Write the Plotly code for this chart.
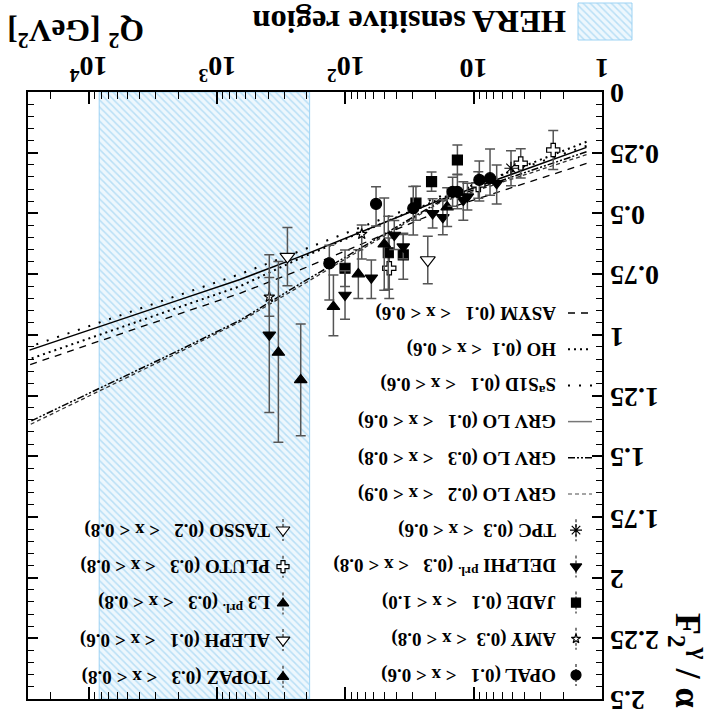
import math
import plotly.graph_objects as go

# ---------------- measured photon structure function F2^gamma / alpha ----------------
OPAL_Q2 = [7.46, 9.04, 13.4, 14.6, 29.6, 57.7, 133.5]
OPAL_F2 = [0.355, 0.362, 0.411, 0.411, 0.479, 0.461, 0.706]
OPAL_LO = [0.12, 0.078, 0.07, 0.06, 0.09, 0.071, 0.075]
OPAL_HI = [0.07, 0.087, 0.07, 0.06, 0.11, 0.091, 0.151]

AMY_Q2 = [74.6, 392]
AMY_F2 = [0.585, 0.844]
AMY_LO = [0.037, 0.08]
AMY_HI = [0.103, 0.08]

JADE_Q2 = [13.4, 21.3, 28.2, 35.4, 46.3, 100.7]
JADE_F2 = [0.280, 0.369, 0.458, 0.671, 0.662, 0.726]
JADE_LO = [0.062, 0.04, 0.07, 0.089, 0.15, 0.075]
JADE_HI = [0.059, 0.04, 0.07, 0.10, 0.15, 0.075]

DELPHI_Q2 = [6.62, 11.2, 12.05, 17.4, 20.9, 41.6, 35.4, 62.8, 100.7, 392]
DELPHI_F2 = [0.376, 0.431, 0.445, 0.516, 0.500, 0.589, 0.637, 0.765, 0.836, 1.0]
DELPHI_LO = [0.075, 0.055, 0.075, 0.072, 0.06, 0.06, 0.05, 0.073, 0.10, 0.33]
DELPHI_HI = [0.085, 0.055, 0.083, 0.072, 0.06, 0.06, 0.05, 0.085, 0.10, 0.32]

TPC_Q2 = [5.12]
TPC_F2 = [0.314]
TPC_LO = [0.072]
TPC_HI = [0.072]

TASSO_Q2 = [22.8]
TASSO_F2 = [0.692]
TASSO_LO = [0.098]
TASSO_HI = [0.098]

PLUTO_Q2 = [2.40, 4.30, 9.21, 45.5]
PLUTO_F2 = [0.239, 0.294, 0.383, 0.726]
PLUTO_LO = [0.08, 0.06, 0.055, 0.125]
PLUTO_HI = [0.08, 0.06, 0.055, 0.125]

L3_Q2 = [124, 333, 223]
L3_F2 = [0.884, 1.073, 1.186]
L3_LO = [0.13, 0.375, 0.23]
L3_HI = [0.12, 0.37, 0.23]

ALEPH_Q2 = [283]
ALEPH_F2 = [0.678]
ALEPH_LO = [0.12]
ALEPH_HI = [0.12]

TOPAZ_Q2 = [16.1, 49.8, 79.3]
TOPAZ_F2 = [0.474, 0.627, 0.750]
TOPAZ_LO = [0.08, 0.19, 0.10]
TOPAZ_HI = [0.08, 0.19, 0.10]

# ---------------- theoretical predictions ----------------
MODEL_Q2 = [1.32, 18.3, 226, 663, 1946, 29000]
GRV_01_06 = [0.228, 0.445, 0.678, 0.772, 0.855, 1.063]
GRV_03_08 = [0.246, 0.450, 0.790, 0.940, 1.062, 1.358]
GRV_02_09 = [0.258, 0.455, 0.800, 0.946, 1.070, 1.371]
SAS1D = [0.222, 0.430, 0.655, 0.750, 0.835, 1.049]
HO = [0.205, 0.440, 0.685, 0.800, 0.885, 1.100]
ASYM = [0.294, 0.490, 0.733, 0.829, 0.913, 1.124]

HERA_Q2 = [190, 8300]

# ---------------- axis tick labels ----------------
X_TICKS = [1, 10, 100, 1000, 10000]
X_TICK_TEXT = ["1", "10", "10<sup>2</sup>", "10<sup>3</sup>", "10<sup>4</sup>"]
Y_TICKS = [0, 0.25, 0.5, 0.75, 1, 1.25, 1.5, 1.75, 2, 2.25, 2.5]
Y_TICK_TEXT = ["0", "0.25", "0.5", "0.75", "1", "1.25", "1.5", "1.75", "2", "2.25", "2.5"]

# ---------------- styling ----------------
W, H = 723, 725
FRAME_L, FRAME_R, FRAME_T, FRAME_B = 28, 602, 92, 699
SERIF = "Liberation Serif"
ERR_COLOR = "#555555"
HATCH = dict(shape="\\", fgcolor="#86c8ee", bgcolor="rgba(225,241,252,0.6)",
             size=5, solidity=0.3)

fig = go.Figure()

# HERA sensitive band
fig.add_trace(go.Scatter(
    x=[HERA_Q2[0], HERA_Q2[1], HERA_Q2[1], HERA_Q2[0], HERA_Q2[0]],
    y=[0, 0, 2.5, 2.5, 0], mode="lines", fill="toself",
    fillpattern=HATCH, fillcolor="rgba(225,241,252,0.6)",
    line=dict(color="#9dd3f4", width=1), hoverinfo="skip",
    xaxis="x", yaxis="y", showlegend=False))

curves = [
    ("GRV LO (0.2 < x < 0.9)", GRV_02_09, dict(color="#333333", width=1.3, dash="4px,3px")),
    ("GRV LO (0.3 < x < 0.8)", GRV_03_08, dict(color="black", width=1.5, dash="7px,2px,2px,2px,2px,2px")),
    ("ASYM", ASYM, dict(color="black", width=1.3, dash="7px,6px")),
    ("HO", HO, dict(color="black", width=2, dash="2px,4px")),
    ("SaS1D", SAS1D, dict(color="black", width=2, dash="2px,9px")),
    ("GRV LO (0.1 < x < 0.6)", GRV_01_06, dict(color="black", width=1.5, dash="solid")),
]
for name, vals, style in curves:
    fig.add_trace(go.Scatter(x=MODEL_Q2, y=vals, mode="lines", line=style,
                             name=name, showlegend=False, xaxis="x", yaxis="y"))

experiments = [
    # (q2, f2, lo, hi, symbol, size, fill)
    (TASSO_Q2, TASSO_F2, TASSO_LO, TASSO_HI, "triangle-down", 13, "white"),
    (ALEPH_Q2, ALEPH_F2, ALEPH_LO, ALEPH_HI, "triangle-down", 13, "white"),
    (PLUTO_Q2, PLUTO_F2, PLUTO_LO, PLUTO_HI, "cross", 11, "white"),
    (AMY_Q2, AMY_F2, AMY_LO, AMY_HI, "star", 8, "white"),
    (TPC_Q2, TPC_F2, TPC_LO, TPC_HI, "asterisk-open", 11, "black"),
    (JADE_Q2, JADE_F2, JADE_LO, JADE_HI, "square", 10, "black"),
    (DELPHI_Q2, DELPHI_F2, DELPHI_LO, DELPHI_HI, "triangle-down", 11, "black"),
    (L3_Q2, L3_F2, L3_LO, L3_HI, "triangle-up", 11, "black"),
    (TOPAZ_Q2, TOPAZ_F2, TOPAZ_LO, TOPAZ_HI, "triangle-up", 11, "black"),
    (OPAL_Q2, OPAL_F2, OPAL_LO, OPAL_HI, "circle", 11, "black"),
]
for q2, f2, lo, hi, sym, size, fillc in experiments:
    fig.add_trace(go.Scatter(
        x=q2, y=f2, mode="markers",
        marker=dict(symbol=sym, size=size, color=fillc,
                    line=dict(color="black", width=1.2)),
        error_y=dict(type="data", array=hi, arrayminus=lo, symmetric=False,
                     color=ERR_COLOR, thickness=1.5, width=5),
        showlegend=False, xaxis="x", yaxis="y"))

# ---------------- hand-drawn key (pixel overlay axes) ----------------
legend_font = dict(family=SERIF, size=19, color="black", weight="bold")
annotations = []

def key_text(x, y, txt, size=19):
    annotations.append(dict(x=x, y=y, xref="x2", yref="y2", text=txt, showarrow=False,
                            textangle=180, xanchor="right", yanchor="middle",
                            font=dict(legend_font, size=size)))

right_entries = [
    ("line", "ASYM (0.1\u00a0\u00a0 < x < 0.6)", curves[2][2]),
    ("line", "HO (0.1\u00a0 < x < 0.6)", curves[3][2]),
    ("line", "S<sup>a</sup>S1D (0.1\u00a0\u00a0 < x < 0.6)", curves[4][2]),
    ("line", "GRV LO (0.1\u00a0\u00a0 < x < 0.6)", dict(color="#777777", width=1.5, dash="solid")),
    ("line", "GRV LO (0.3\u00a0\u00a0 < x < 0.8)", curves[1][2]),
    ("line", "GRV LO (0.2\u00a0\u00a0 < x < 0.9)", dict(color="#888888", width=1.3, dash="4px,3px")),
    ("mark", "TPC (0.3\u00a0 < x < 0.6)", experiments[4]),
    ("mark", "DELPHI <sup>prl.</sup> (0.3\u00a0\u00a0 < x < 0.8)", experiments[6]),
    ("mark", "JADE (0.1\u00a0\u00a0 < x < 1.0)", experiments[5]),
    ("mark", "AMY (0.3\u00a0 < x < 0.8)", experiments[3]),
    ("mark", "OPAL (0.1\u00a0\u00a0 < x < 0.6)", experiments[9]),
]
left_entries = [
    ("mark", "TASSO (0.2\u00a0\u00a0 < x < 0.8)", experiments[0]),
    ("mark", "PLUTO (0.3\u00a0\u00a0 < x < 0.8)", experiments[2]),
    ("mark", "L3 <sup>prl.</sup> (0.3\u00a0\u00a0 < x < 0.8)", experiments[7]),
    ("mark", "ALEPH (0.1\u00a0\u00a0 < x < 0.6)", experiments[1]),
    ("mark", "TOPAZ (0.3\u00a0\u00a0 < x < 0.8)", experiments[8]),
]

def draw_key(entries, x_mark, y_first, step, x_text):
    for i, (kind, label, style) in enumerate(entries):
        y = y_first + i * step
        if kind == "line":
            fig.add_trace(go.Scatter(x=[x_mark - 8, x_mark + 16], y=[y, y], mode="lines",
                                     line=style, xaxis="x2", yaxis="y2",
                                     showlegend=False, hoverinfo="skip"))
        else:
            sym, size, fillc = style[4], style[5], style[6]
            # dashed vertical error-bar stub behind the key marker
            fig.add_trace(go.Scatter(x=[x_mark, x_mark], y=[y - 11, y + 11], mode="lines",
                                     line=dict(color=ERR_COLOR, width=1.5, dash="3px,2px"),
                                     xaxis="x2", yaxis="y2", showlegend=False, hoverinfo="skip"))
            fig.add_trace(go.Scatter(
                x=[x_mark], y=[y], mode="markers",
                marker=dict(symbol=sym, size=size - 1, color=fillc,
                            line=dict(color="black", width=1.2)),
                xaxis="x2", yaxis="y2", showlegend=False, hoverinfo="skip"))
        key_text(x_text, y, label)

draw_key(right_entries, 576, 313, 36.2, 558)
draw_key(left_entries, 283, 530, 36.7, 272)

# HERA key box
fig.add_trace(go.Scatter(x=[578, 632, 632, 578, 578], y=[3, 3, 40, 40, 3], mode="lines",
                         fill="toself", fillpattern=HATCH, fillcolor="rgba(225,241,252,0.6)",
                         line=dict(color="#9dd3f4", width=1), xaxis="x2", yaxis="y2",
                         showlegend=False, hoverinfo="skip"))
annotations.append(dict(x=568, y=22, xref="x2", yref="y2", text="HERA sensitive region",
                        showarrow=False, textangle=180, xanchor="right", yanchor="middle",
                        font=dict(family=SERIF, size=32.5, color="black", weight="bold")))

# axis titles
annotations.append(dict(x=76, y=33, xref="x2", yref="y2", text="Q<sup>2</sup> [GeV<sup>2</sup>]",
                        showarrow=False, textangle=180, xanchor="center", yanchor="middle",
                        font=dict(family=SERIF, size=31.5, color="black", weight="bold")))
annotations.append(dict(x=688, y=660, xref="x2", yref="y2",
                        text="F<sub>2</sub><sup>\u03b3</sup> / \u03b1",
                        showarrow=False, textangle=90, xanchor="center", yanchor="middle",
                        font=dict(family=SERIF, size=36, color="black", weight="bold")))

# upside-down tick labels, positioned through the data axes
tick_font = dict(family=SERIF, size=28, color="black", weight="bold")
for val, txt in zip(X_TICKS, X_TICK_TEXT):
    annotations.append(dict(x=math.log10(val), xref="x", y=1 - 68 / H, yref="paper",
                            text=txt, showarrow=False, textangle=180,
                            xanchor="center", yanchor="middle", font=tick_font))
for val, txt in zip(Y_TICKS, Y_TICK_TEXT):
    annotations.append(dict(x=(FRAME_R + 6) / W, xref="paper", y=val, yref="y",
                            text=txt, showarrow=False, textangle=180, yshift=-2,
                            xanchor="left", yanchor="middle", font=tick_font))

minor_x = [m * 10 ** k for k in range(0, 5) for m in range(2, 10) if m * 10 ** k < 29000]

fig.update_layout(
    width=W, height=H, margin=dict(l=0, r=0, t=0, b=0, autoexpand=False),
    paper_bgcolor="white", plot_bgcolor="rgba(0,0,0,0)",
    showlegend=False, annotations=annotations,
    xaxis=dict(type="log", range=[4.474, 0], domain=[FRAME_L / W, FRAME_R / W],
               side="top", anchor="y", automargin=False,
               showline=True, linecolor="black", linewidth=2,
               mirror="allticks", ticks="inside", ticklen=12, tickwidth=1.5, tickcolor="black",
               tickvals=X_TICKS, showticklabels=False, showgrid=False, zeroline=False,
               minor=dict(tickvals=minor_x, ticks="inside", ticklen=7, tickwidth=1,
                          tickcolor="black", showgrid=False)),
    yaxis=dict(range=[2.5, 0], domain=[1 - FRAME_B / H, 1 - FRAME_T / H],
               side="right", anchor="x", automargin=False,
               showline=True, linecolor="black", linewidth=2,
               mirror="allticks", ticks="inside", ticklen=10, tickwidth=1.5, tickcolor="black",
               tickvals=Y_TICKS, showticklabels=False, showgrid=False, zeroline=False,
               minor=dict(dtick=0.05, ticks="inside", ticklen=6, tickwidth=1,
                          tickcolor="black", showgrid=False)),
    xaxis2=dict(domain=[0, 1], range=[0, W], anchor="y2", visible=False,
                fixedrange=True, automargin=False),
    yaxis2=dict(domain=[0, 1], range=[H, 0], anchor="x2", visible=False,
                fixedrange=True, automargin=False),
)

fig.write_html("out.html")
